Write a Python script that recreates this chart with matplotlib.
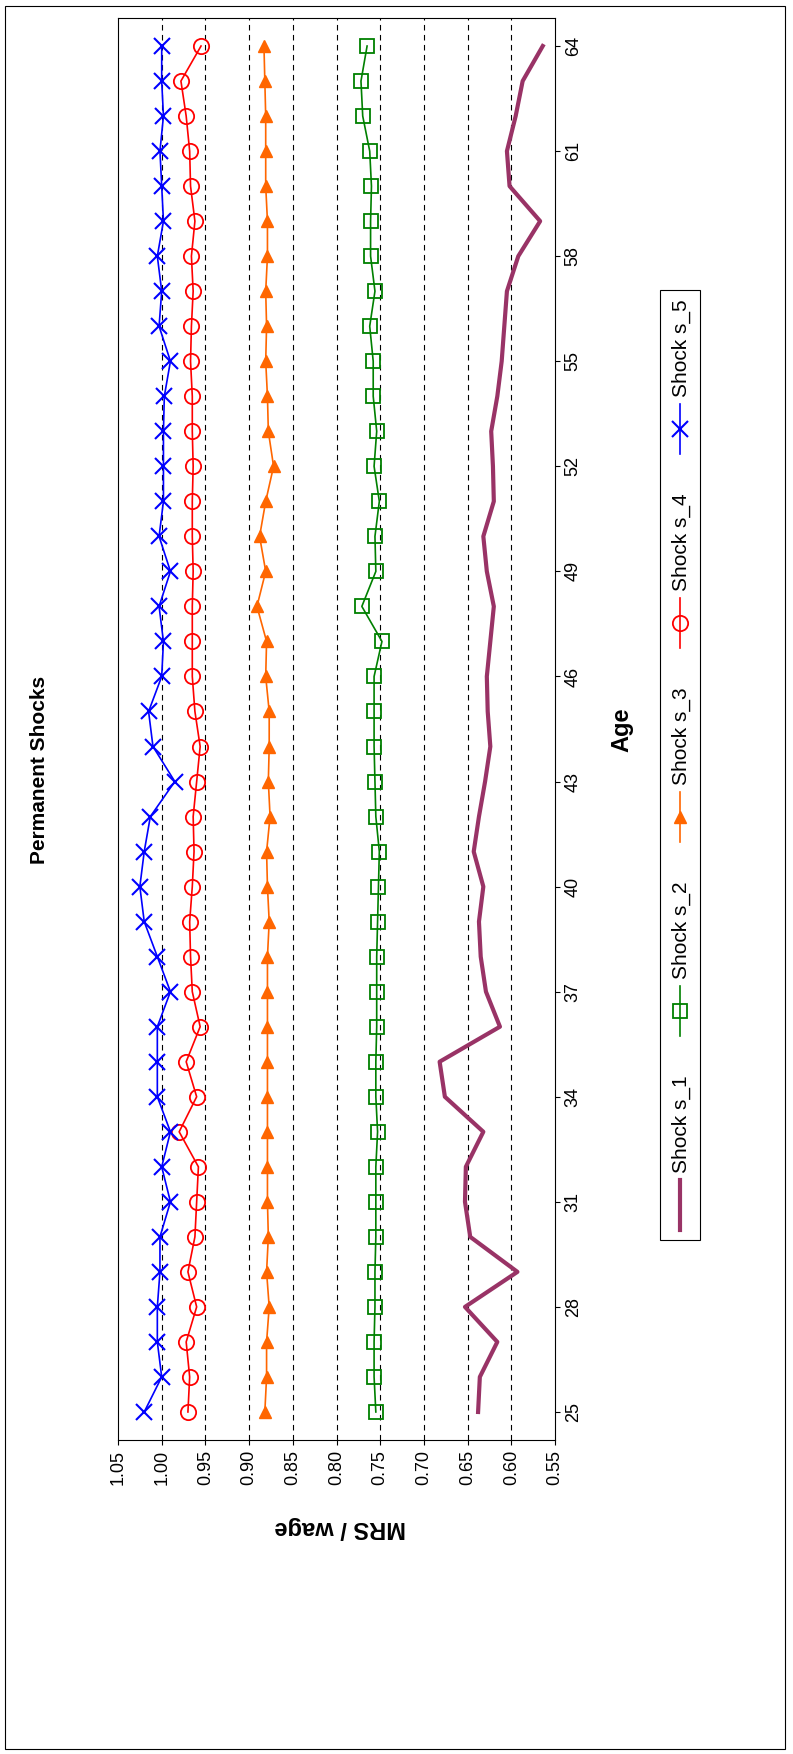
import matplotlib
matplotlib.use("Agg")
import matplotlib.pyplot as plt
from matplotlib.lines import Line2D
from matplotlib.patches import Rectangle

plt.rcParams['font.family'] = ['Liberation Sans', 'DejaVu Sans']

ages = list(range(25, 65))
s_1 = [0.638, 0.636, 0.616, 0.653, 0.593, 0.647, 0.653, 0.652, 0.632, 0.676,
       0.682, 0.613, 0.629, 0.635, 0.637, 0.632, 0.643, 0.637, 0.630, 0.624,
       0.627, 0.628, 0.624, 0.620, 0.628, 0.632, 0.620, 0.621, 0.623, 0.616,
       0.611, 0.608, 0.605, 0.592, 0.567, 0.602, 0.605, 0.595, 0.587, 0.564]
s_2 = [0.755, 0.757, 0.757, 0.756, 0.756, 0.755, 0.755, 0.755, 0.753, 0.755,
       0.755, 0.754, 0.754, 0.754, 0.753, 0.752, 0.751, 0.755, 0.756, 0.757,
       0.757, 0.757, 0.748, 0.771, 0.755, 0.756, 0.751, 0.757, 0.754, 0.758,
       0.758, 0.762, 0.756, 0.761, 0.761, 0.760, 0.762, 0.770, 0.772, 0.765]
s_3 = [0.882, 0.880, 0.880, 0.877, 0.880, 0.878, 0.879, 0.879, 0.879, 0.879,
       0.879, 0.879, 0.879, 0.879, 0.877, 0.879, 0.880, 0.876, 0.878, 0.877,
       0.877, 0.881, 0.880, 0.891, 0.881, 0.888, 0.881, 0.872, 0.878, 0.879,
       0.881, 0.880, 0.881, 0.879, 0.879, 0.881, 0.881, 0.881, 0.882, 0.883]
s_4 = [0.970, 0.968, 0.972, 0.960, 0.970, 0.962, 0.960, 0.958, 0.980, 0.960,
       0.972, 0.956, 0.965, 0.967, 0.968, 0.965, 0.963, 0.964, 0.960, 0.956,
       0.962, 0.965, 0.965, 0.965, 0.964, 0.965, 0.965, 0.964, 0.965, 0.965,
       0.967, 0.966, 0.964, 0.966, 0.962, 0.967, 0.968, 0.972, 0.978, 0.955]
s_5 = [1.020, 1.000, 1.005, 1.005, 1.002, 1.002, 0.990, 1.000, 0.990, 1.005,
       1.005, 1.005, 0.990, 1.005, 1.020, 1.025, 1.020, 1.013, 0.985, 1.010,
       1.015, 1.000, 0.998, 1.003, 0.990, 1.003, 0.998, 0.998, 0.998, 0.997,
       0.990, 1.003, 1.000, 1.005, 0.998, 1.000, 1.002, 0.998, 1.000, 1.000]
labels = ["Shock s_1", "Shock s_2", "Shock s_3", "Shock s_4", "Shock s_5"]
age_ticks = list(range(25, 65, 3))
mrs_ticks = [0.55, 0.60, 0.65, 0.70, 0.75, 0.80, 0.85, 0.90, 0.95, 1.00, 1.05]

styles = [
    dict(color="#993366", lw=3, marker=None),
    dict(color="#008000", lw=1.2, marker="s", ms=10, mfc="none", mew=1.3),
    dict(color="#FF6600", lw=1.2, marker="^", ms=9, mfc="#FF6600"),
    dict(color="#FF0000", lw=1.2, marker="o", ms=11, mfc="none", mew=1.3),
    dict(color="#0000FF", lw=1.2, marker="x", ms=11, mew=1.5),
]

W, H = 793, 1754
fig = plt.figure(figsize=(W / 100, H / 100), dpi=100)
ax = fig.add_axes([118 / W, 1 - 1440 / H, (555 - 118) / W, (1440 - 18) / H])

# chart is drawn rotated: value across, age upward
for series, st in zip([s_1, s_2, s_3, s_4, s_5], styles):
    ax.plot(series, ages, **st)

ax.set_xlim(1.05, 0.55)
ax.set_ylim(24.2, 64.8)
ax.set_xticks(mrs_ticks)
ax.set_xticklabels([f"{v:.2f}" for v in mrs_ticks], rotation=90, fontsize=13)
ax.set_yticks(age_ticks)
ax.set_yticklabels(age_ticks, rotation=90, fontsize=13, va="center")
ax.yaxis.tick_right()
for v in mrs_ticks[1:-1]:
    ax.axvline(v, color="black", ls=(0, (5, 4)), lw=0.8, zorder=0)

fig.text(40 / W, 1 - 770 / H, "Permanent Shocks", rotation=90, fontsize=15,
         fontweight="bold", ha="center", va="center")
fig.text(622 / W, 1 - 730 / H, "Age", rotation=90, fontsize=17,
         fontweight="bold", ha="center", va="center")
fig.text(340 / W, 1 - 1528 / H, "MRS / wage", rotation=180, fontsize=17,
         fontweight="bold", ha="center", va="center")

# legend box, entries stacked upward
fig.patches.append(Rectangle((660 / W, 1 - 1240 / H), 40 / W, 950 / H,
                             transform=fig.transFigure, fill=False, lw=0.8, color="black"))
for i, (lab, st) in enumerate(zip(labels, styles)):
    yc = 1205 - i * 194
    line = Line2D([680 / W, 680 / W], [1 - (yc + 25) / H, 1 - (yc - 25) / H],
                  transform=fig.transFigure, color=st["color"], lw=st["lw"])
    fig.lines.append(line)
    if st["marker"]:
        m = Line2D([680 / W], [1 - yc / H], transform=fig.transFigure,
                   **{k: v for k, v in st.items() if k != "lw"}, lw=0)
        fig.lines.append(m)
    fig.text(681 / W, 1 - (yc - 32) / H, lab, rotation=90, fontsize=15,
             ha="center", va="bottom")

fig.patches.append(Rectangle((5 / W, 5 / H), 780 / W, 1743 / H,
                             transform=fig.transFigure, fill=False, lw=0.8, color="black"))
fig.savefig("out.png", dpi=100)
